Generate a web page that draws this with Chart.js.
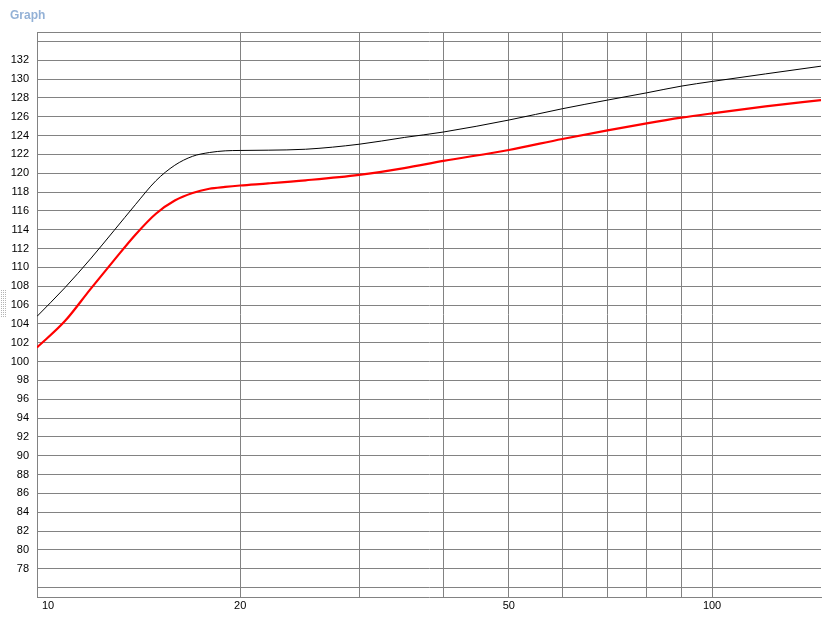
<!DOCTYPE html>
<html>
<head>
<meta charset="utf-8">
<script src="https://cdn.jsdelivr.net/npm/chart.js@4"></script>
<style>
  html, body { margin: 0; padding: 0; background: #fff; }
  #wrap { width: 829px; height: 618px; }
</style>
</head>
<body>
<div id="wrap"><canvas id="graph"></canvas></div>
<script>
// frequencies (log x axis)
const freqs = [10, 11, 12, 13, 14, 15, 16, 17, 18, 19, 20, 22, 25, 30, 35, 40, 50, 60, 70, 80, 90, 100, 120, 145];
// black trace
const blackVals = [104.8, 107.85, 110.9, 113.9, 116.7, 119.2, 120.85, 121.8, 122.2, 122.38, 122.42, 122.45, 122.55, 123.08, 123.8, 124.38, 125.65, 126.85, 127.77, 128.54, 129.25, 129.75, 130.55, 131.37];
// red trace
const redVals = [101.5, 104.3, 107.7, 110.75, 113.5, 115.7, 117.1, 117.9, 118.35, 118.55, 118.7, 118.92, 119.25, 119.83, 120.55, 121.31, 122.47, 123.64, 124.56, 125.3, 125.9, 126.36, 127.1, 127.77];

const xGrid = [10, 20, 30, 40, 50, 60, 70, 80, 90, 100];
const xLabels = [10, 20, 50, 100];
const yMin = 75, yMax = 135;
const yGrid = [];
for (let v = 76; v <= 134; v += 2) yGrid.push(v);
yGrid.push(135);

const gridColor = '#828282';
const tickFont = { family: '"Liberation Sans", Arial, sans-serif', size: 11 };

const toPoints = vals => freqs.map((f, i) => ({ x: f, y: vals[i] }));

const extras = {
    id: 'extras',
    afterDraw(chart) {
        const ctx = chart.ctx;
        const xs = chart.scales.x;
        ctx.save();
        // title
        ctx.fillStyle = '#93b1d6';
        ctx.font = 'bold 12px "Liberation Sans", Arial, sans-serif';
        ctx.textBaseline = 'middle';
        ctx.textAlign = 'left';
        ctx.fillText('Graph', 10, 16);
        // x labels
        ctx.fillStyle = '#000';
        ctx.font = '11px "Liberation Sans", Arial, sans-serif';
        ctx.textBaseline = 'top';
        xLabels.forEach(v => {
            const px = xs.getPixelForValue(v);
            if (v === xLabels[0]) {
                ctx.textAlign = 'left';
                ctx.fillText(String(v), px + 5, 600);
            } else {
                ctx.textAlign = 'center';
                ctx.fillText(String(v), px, 600);
            }
        });
        // grip dots on the left edge
        ctx.fillStyle = '#b4b4b4';
        for (let y = 290; y <= 317; y += 2) {
            ctx.fillRect(1, y, 1, 1);
            ctx.fillRect(3, y, 1, 1);
            ctx.fillRect(5, y, 1, 1);
        }
        ctx.restore();
    }
};

new Chart(document.getElementById('graph'), {
    type: 'line',
    data: {
        datasets: [{
            label: 'black',
            data: toPoints(blackVals),
            borderColor: '#000000',
            borderWidth: 1,
            pointRadius: 0,
            fill: false,
            cubicInterpolationMode: 'monotone'
        }, {
            label: 'red',
            data: toPoints(redVals),
            borderColor: '#ff0000',
            borderWidth: 2.2,
            pointRadius: 0,
            fill: false,
            cubicInterpolationMode: 'monotone'
        }]
    },
    options: {
        responsive: true,
        maintainAspectRatio: false,
        animation: false,
        layout: {
            padding: { top: 32, right: 8, left: 0, bottom: 0 }
        },
        plugins: {
            legend: { display: false },
            tooltip: { enabled: false }
        },
        scales: {
            x: {
                type: 'logarithmic',
                min: 10,
                max: 145,
                afterBuildTicks: scale => {
                    scale.ticks = xGrid.map(v => ({ value: v }));
                },
                afterFit: scale => { scale.height = 21; },
                grid: { color: gridColor, lineWidth: 1, drawTicks: false },
                border: { color: gridColor, width: 1 },
                ticks: { display: false }
            },
            y: {
                type: 'linear',
                min: yMin,
                max: yMax,
                afterBuildTicks: scale => {
                    scale.ticks = yGrid.map(v => ({ value: v }));
                },
                afterFit: scale => { scale.width = 37; },
                grid: { color: gridColor, lineWidth: 1, drawTicks: false },
                border: { color: gridColor, width: 1 },
                ticks: {
                    padding: 8,
                    color: '#000',
                    font: tickFont,
                    autoSkip: false,
                    callback: v => (v >= 78 && v <= 132) ? String(v) : ''
                }
            }
        }
    },
    plugins: [extras]
});
</script>
</body>
</html>
